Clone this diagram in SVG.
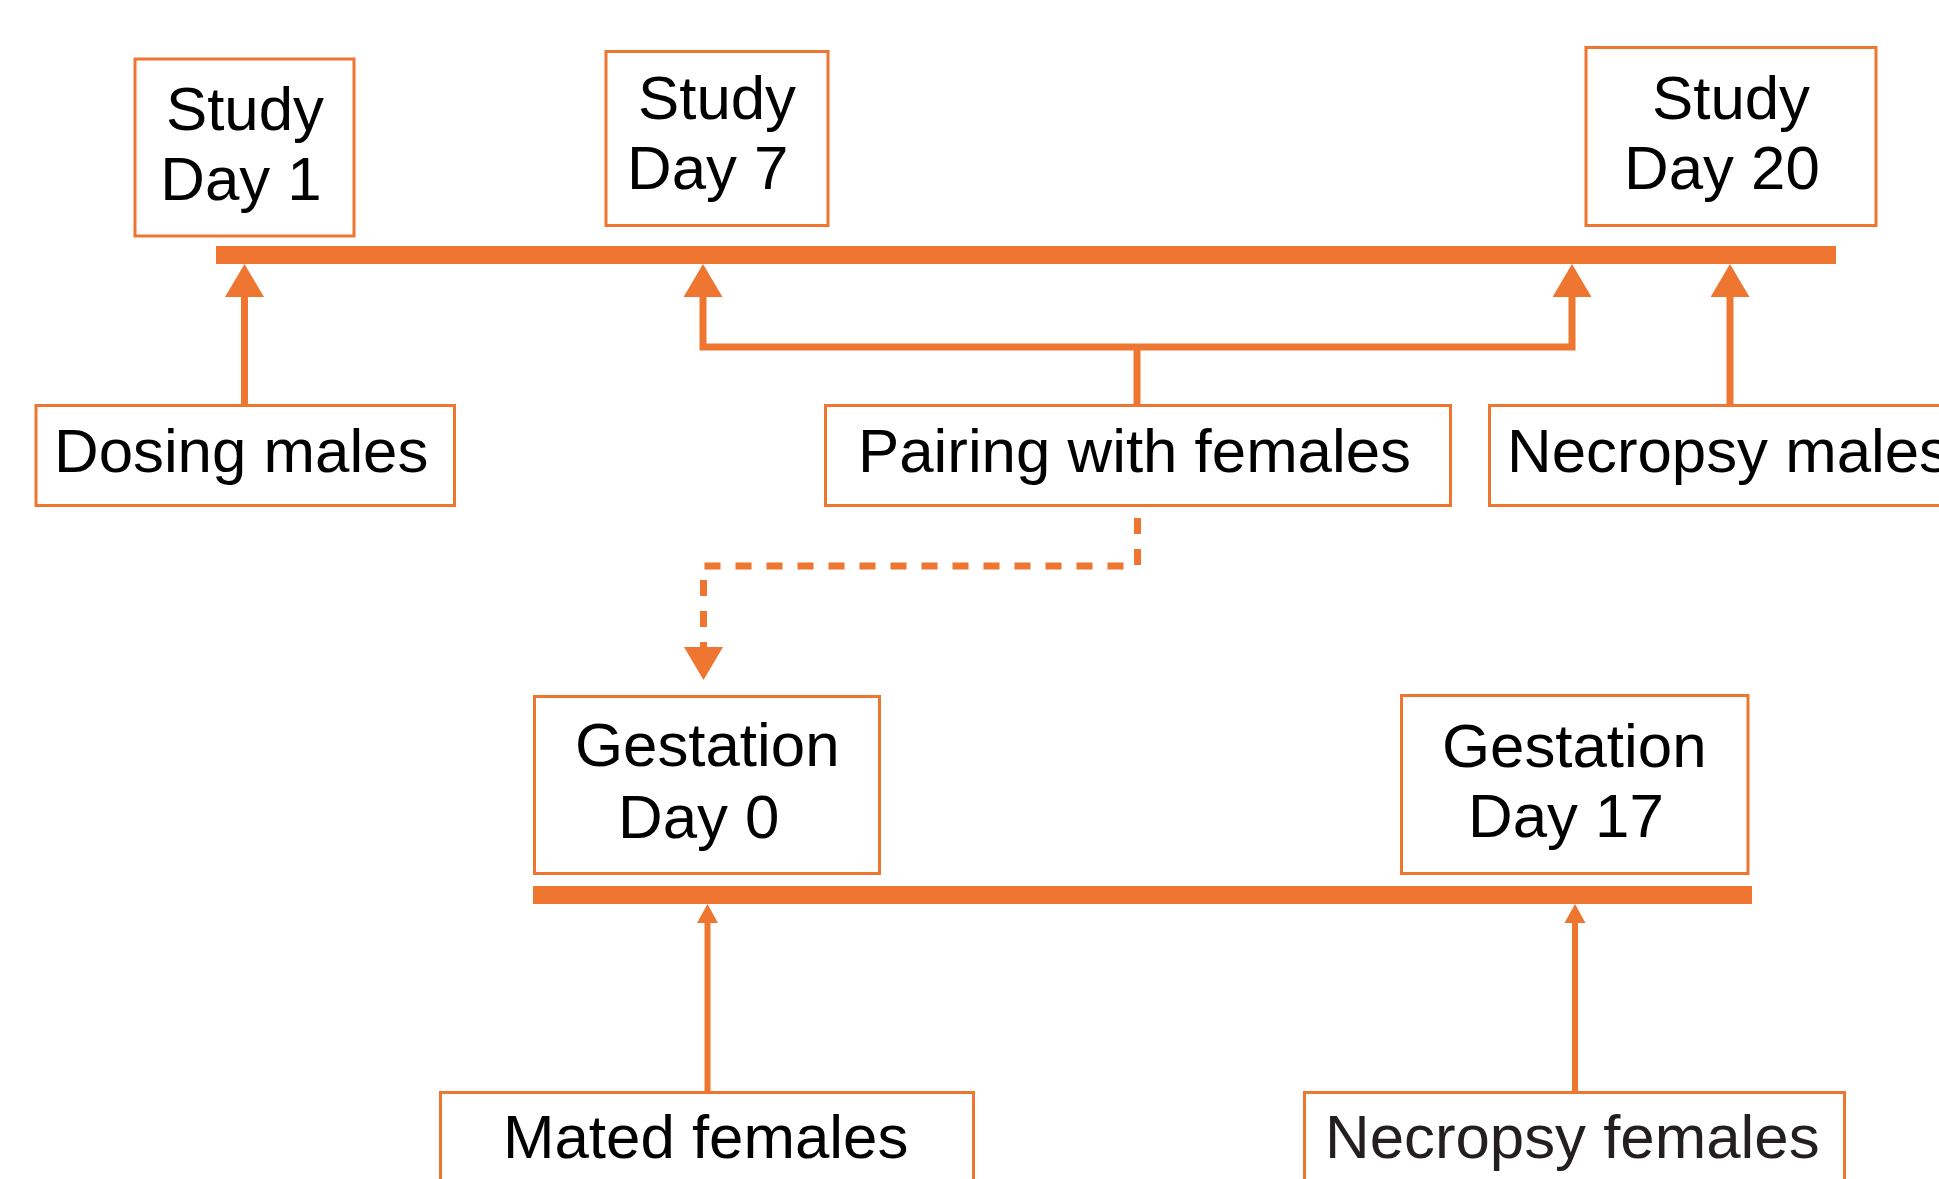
<svg xmlns="http://www.w3.org/2000/svg" width="1939" height="1179" viewBox="0 0 1939 1179">
<style>
.box{fill:#fff;stroke:#EF7630;stroke-width:3}
.t{font-family:"Liberation Sans",Arial,sans-serif;font-size:61.8px;fill:#000}
.c{text-anchor:middle}
.ln{fill:none;stroke:#EF7630;stroke-width:7}
.sm{fill:none;stroke:#EF7630;stroke-width:6}
.bar{fill:#EF7630}
</style>
<defs>
<marker id="ah" markerUnits="userSpaceOnUse" viewBox="0 0 33 39" refX="0" refY="19.5" markerWidth="33" markerHeight="39" orient="auto-start-reverse"><path d="M0 0L33 19.5L0 39z" fill="#EF7630"/></marker>
<marker id="ahs" markerUnits="userSpaceOnUse" viewBox="0 0 19 21" refX="0" refY="10.5" markerWidth="19" markerHeight="21" orient="auto"><path d="M0 0L19 10.5L0 21z" fill="#EF7630"/></marker>
</defs>
<g id="timelines">
<rect class="bar" x="216" y="246" width="1620" height="18"/>
<rect class="bar" x="533" y="886" width="1219" height="18"/>
</g>
<g id="connectors">
<path class="ln" d="M244.5 404V297" marker-end="url(#ah)"/>
<path class="ln" d="M703 297V347H1572V297" marker-start="url(#ah)" marker-end="url(#ah)"/>
<path class="ln" d="M1137 404V347"/>
<path class="ln" d="M1730 404V297" marker-end="url(#ah)"/>
<path class="ln" d="M1137.5 518V566H703.5V647" stroke-dasharray="16 15" marker-end="url(#ah)"/>
<path class="sm" d="M707.5 1091V923" marker-end="url(#ahs)"/>
<path class="sm" d="M1575 1091V923" marker-end="url(#ahs)"/>
</g>
<g id="study-day-1"><rect class="box" x="135" y="59" width="219" height="177"/><text class="t c" x="245" y="130">Study</text><text class="t c" x="241" y="200">Day 1</text></g>
<g id="study-day-7"><rect class="box" x="606" y="51.5" width="222" height="174"/><text class="t" x="638" y="119">Study</text><text class="t" x="627" y="189">Day 7</text></g>
<g id="study-day-20"><rect class="box" x="1586" y="47.5" width="290" height="178"/><text class="t" x="1652" y="119">Study</text><text class="t" x="1624" y="189">Day 20</text></g>
<g id="dosing-males"><rect class="box" x="36" y="405.5" width="418.5" height="100"/><text class="t" x="54" y="472">Dosing males</text></g>
<g id="pairing-with-females"><rect class="box" x="825.5" y="405.5" width="625" height="100"/><text class="t" x="858" y="472">Pairing with females</text></g>
<g id="necropsy-males"><rect class="box" x="1489.5" y="405.5" width="500" height="100"/><text class="t" x="1507" y="472">Necropsy males</text></g>
<g id="gestation-day-0"><rect class="box" x="534.5" y="696.5" width="345" height="177"/><text class="t" x="575" y="766">Gestation</text><text class="t" x="618" y="838">Day 0</text></g>
<g id="gestation-day-17"><rect class="box" x="1401.5" y="695.5" width="346.5" height="178"/><text class="t" x="1442" y="767">Gestation</text><text class="t" x="1468" y="837">Day 17</text></g>
<g id="mated-females"><rect class="box" x="440.5" y="1092.5" width="533" height="200"/><text class="t" x="503" y="1158">Mated females</text></g>
<g id="necropsy-females"><rect class="box" x="1304.5" y="1092.5" width="540" height="200"/><text class="t" x="1325" y="1158" style="fill:#231f20">Necropsy females</text></g>
</svg>
